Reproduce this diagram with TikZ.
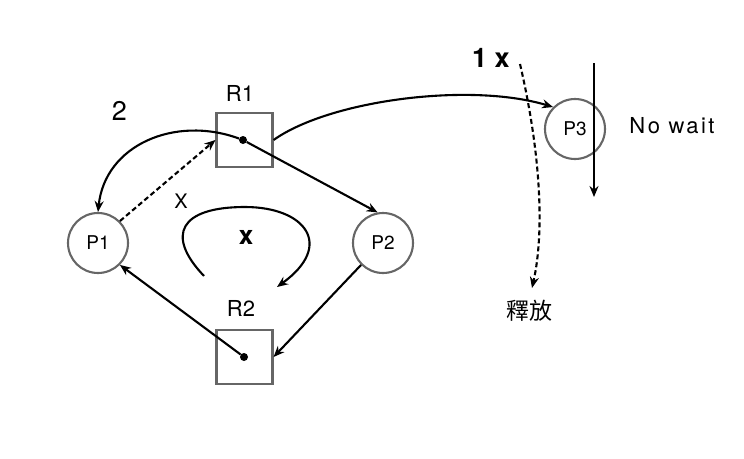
\documentclass[tikz,border=0pt]{standalone}
\usepackage{fontspec}
\setmainfont{TeX Gyre Heros}
\newfontfamily\cjk{Noto Sans CJK TC}
\usetikzlibrary{arrows.meta}
\begin{document}
\begin{tikzpicture}[x=1pt,y=-1pt,
  res/.style={draw=black!60, line width=2.1pt, minimum width=56pt, minimum height=54pt, inner sep=0pt},
  proc/.style={circle, draw=black!60, line width=2.1pt, minimum size=60pt, inner sep=0pt, font=\fontsize{19}{21}\selectfont},
  lbl/.style={font=\fontsize{22}{24}\selectfont, inner sep=0pt},
  big/.style={font=\fontsize{27}{30}\selectfont, inner sep=0pt},
  arr/.style={line width=2.1pt, -{Stealth[length=11pt,width=9pt]}},
  dsh/.style={dash pattern=on 5pt off 3pt},
  dot/.style={circle, fill=black, minimum size=8pt, inner sep=0pt}]
\useasboundingbox (0,0) rectangle (744,458);
\node[res] (R1) at (244.5,140) {};
\node[res] (R2) at (244.5,357) {};
\node[proc] (P1) at (98,243) {P1};
\node[proc] (P2) at (383,243) {P2};
\node[proc] (P3) at (575,129) {P3};
\node[dot] (d1) at (243,140) {};
\node[dot] (d2) at (244,357) {};
\node[lbl] (lR1) at (240,93) {R1};
\node[lbl] (lR2) at (241,308) {R2};
\node[big] (l2) at (119.5,110.5) {2};
\node[lbl, font=\fontsize{20}{22}\selectfont] (lx) at (181,201) {X};
\node[big, font=\bfseries\fontsize{26}{28}\selectfont] (lxb) at (246,237) {x};
\node[big, font=\bfseries\fontsize{27}{30}\selectfont] (l1x) at (491,58) {1 x};
\node[lbl, font=\addfontfeature{LetterSpace=11}\fontsize{22}{24}\selectfont] (lnw) at (672,126) {No wait};
\node[lbl, font=\cjk\fontsize{23}{25}\selectfont] (lrel) at (529,311) {釋放};
\coordinate (a1) at (204,276);
\coordinate (a2) at (245,207);
\coordinate (a3) at (277,287);
\coordinate (b1) at (520,64);
\coordinate (b2) at (532,288);
\coordinate (c1) at (594,63);
\coordinate (c2) at (594,197);
% connectors
\draw[arr] (d1) .. controls (175,115) and (105,145) .. (P1.north);
\draw[arr, dsh] (P1.45) -- (R1.west);
\draw[arr] (d1) -- (P2.100);
\draw[arr] (R1.east) .. controls (330,100) and (470,82) .. (P3.135);
\draw[arr] (P2.225) -- (R2.east);
\draw[arr] (d2) -- (P1.-45);
\draw[arr] (a1) .. controls (165,235) and (180,207) .. (a2) .. controls (305,207) and (335,245) .. (a3);
\draw[arr, dsh] (b1) .. controls (540,150) and (545,230) .. (b2);
\draw[arr] (c1) -- (c2);
\end{tikzpicture}
\end{document}
